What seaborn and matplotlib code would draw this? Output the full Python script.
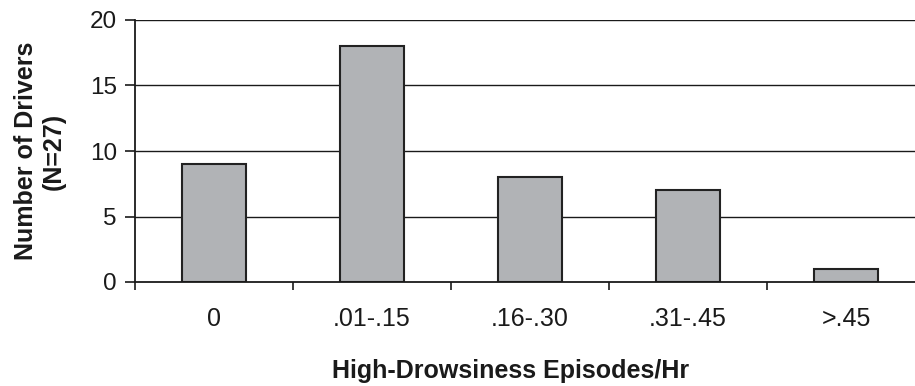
import matplotlib
matplotlib.use("Agg")
import matplotlib.pyplot as plt
import seaborn as sns
import pandas as pd

categories = ["0", ".01-.15", ".16-.30", ".31-.45", ">.45"]
drivers = [9, 18, 8, 7, 1]
y_ticks = [0, 5, 10, 15, 20]

sns.set_style("white")
plt.rcParams["font.family"] = ["Liberation Sans", "DejaVu Sans"]

df = pd.DataFrame({"cat": categories, "n": drivers})

fig = plt.figure(figsize=(9.15, 3.86), dpi=100)
ax = fig.add_axes([135/915, 104/386, 790/915, 262/386])

sns.barplot(data=df, x="cat", y="n", ax=ax, color="#b1b3b6", saturation=1,
            width=0.405, edgecolor="#222222", linewidth=1.5, zorder=3)

ax.set_xlim(-0.5, 4.5)
ax.set_ylim(0, 20)
ax.set_yticks(y_ticks)
for v in y_ticks[1:]:
    ax.axhline(v, color="#1a1a1a", linewidth=1.0, zorder=1)

ax.spines["top"].set_visible(False)
ax.spines["right"].set_visible(False)
for s in ("left", "bottom"):
    ax.spines[s].set_color("#1a1a1a")
    ax.spines[s].set_linewidth(1.3)
    ax.spines[s].set_zorder(4)

ax.tick_params(axis="y", which="major", direction="out", length=7, width=1.2,
               color="#1a1a1a", labelsize=17.5, pad=6, left=True, labelcolor="#1a1a1a")
ax.tick_params(axis="x", which="major", length=0, labelsize=18, pad=18, labelcolor="#1a1a1a")
ax.set_xticks([i - 0.5 for i in range(len(categories) + 1)], minor=True)
ax.tick_params(axis="x", which="minor", direction="out", length=6, width=1.2,
               color="#1a1a1a", bottom=True)

ax.set_xlabel("")
ax.set_ylabel("")

fig.text(332/915, 1 - 378/386, "High-Drowsiness Episodes/Hr", ha="left", va="baseline",
         fontsize=18, fontweight="bold", color="#1a1a1a")
fig.text(40/915, 1 - 151/386, "Number of Drivers\n(N=27)", ha="center", va="center",
         rotation=90, fontsize=18, fontweight="bold", linespacing=1.2, color="#1a1a1a")

fig.savefig("out.png", dpi=100)
